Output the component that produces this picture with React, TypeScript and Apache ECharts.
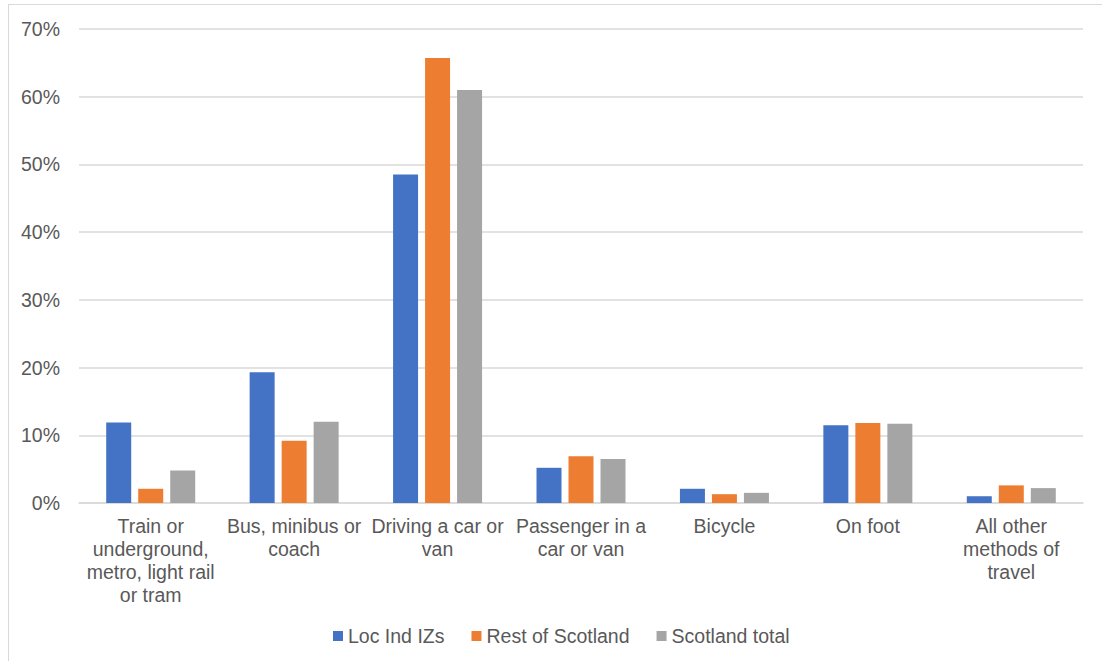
import React, { useEffect, useRef } from "react";
import * as echarts from "echarts";

const categories = [
  "Train or\nunderground,\nmetro, light rail\nor tram",
  "Bus, minibus or\ncoach",
  "Driving a car or\nvan",
  "Passenger in a\ncar or van",
  "Bicycle",
  "On foot",
  "All other\nmethods of\ntravel",
];
const seriesNames = ["Loc Ind IZs", "Rest of Scotland", "Scotland total"];
const locIndIZs = [11.9, 19.3, 48.5, 5.2, 2.1, 11.5, 1.0];
const restOfScotland = [2.1, 9.2, 65.7, 6.9, 1.3, 11.8, 2.6];
const scotlandTotal = [4.8, 12.0, 61.0, 6.5, 1.5, 11.7, 2.2];
const colors = ["#4472C4", "#ED7D31", "#A5A5A5"];

export default function App() {
  const ref = useRef<HTMLDivElement>(null);
  useEffect(() => {
    if (!ref.current) return;
    const chart = echarts.init(ref.current, undefined, { renderer: "svg" });
    const font = "'Liberation Sans', Arial, sans-serif";
    const fs = 19.5;
    const data = [locIndIZs, restOfScotland, scotlandTotal];
    chart.setOption({
      animation: false,
      color: colors,
      textStyle: { fontFamily: font },
      grid: { left: 79, right: 19, top: 29, bottom: 158, containLabel: false },
      legend: {
        top: 621,
        left: 328,
        itemWidth: 10,
        itemHeight: 10,
        itemGap: 27,
        icon: "rect",
        textStyle: { fontSize: fs, color: "#595959", fontFamily: font },
        data: seriesNames,
      },
      xAxis: {
        type: "category",
        data: categories,
        axisLine: { lineStyle: { color: "#D9D9D9", width: 1.5 } },
        axisTick: { show: false },
        axisLabel: {
          interval: 0,
          margin: 11,
          fontSize: fs,
          lineHeight: 23,
          color: "#595959",
          fontFamily: font,
        },
      },
      yAxis: {
        type: "value",
        min: 0,
        max: 70,
        interval: 10,
        axisLine: { show: false },
        axisTick: { show: false },
        splitLine: { lineStyle: { color: "#D9D9D9", width: 1.5 } },
        axisLabel: {
          formatter: "{value}%",
          margin: 19,
          fontSize: fs,
          color: "#595959",
          fontFamily: font,
        },
      },
      series: seriesNames.map((name, i) => ({
        name,
        type: "bar",
        data: data[i],
        barWidth: 25,
        barGap: "28%",
        itemStyle: { color: colors[i] },
      })),
    });
    return () => chart.dispose();
  }, []);
  return (
    <div style={{ position: "fixed", left: 0, top: 0, width: 1102, height: 661, background: "#fff" }}>
      <div
        style={{
          position: "absolute",
          left: 8,
          top: 4,
          width: 1110,
          height: 670,
          border: "1.5px solid #D9D9D9",
          boxSizing: "border-box",
        }}
      />
      <div ref={ref} style={{ position: "absolute", left: 0, top: 0, width: 1102, height: 661 }} />
    </div>
  );
}
